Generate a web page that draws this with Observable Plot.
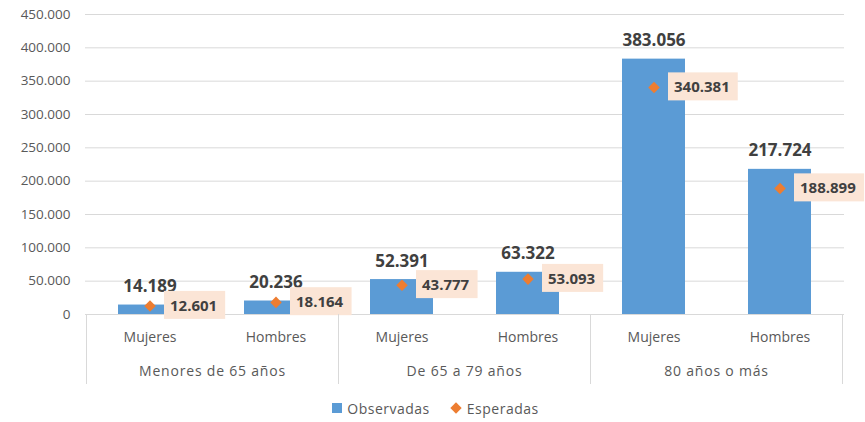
<!DOCTYPE html>
<html><head><meta charset="utf-8">
<script src="https://cdn.jsdelivr.net/npm/d3@7"></script>
<script src="https://cdn.jsdelivr.net/npm/@observablehq/plot@0.6"></script>
<style>
body{margin:0;background:#fff;font-family:"Open Sans",sans-serif;}
#chart{width:865px;}
.legend{height:26px;display:flex;justify-content:center;align-items:center;gap:22px;font-size:14px;color:#595959;letter-spacing:0.5px;padding-left:6px;}
.legend span.item{display:flex;align-items:center;gap:5px;}
.sq{width:10px;height:10px;background:#5B9BD5;display:inline-block;}
.dm{width:8px;height:8px;background:#ED7D31;display:inline-block;transform:rotate(45deg);margin-right:2px;}
</style></head><body>
<div id="chart"></div>
<script>
const groups = ["Menores de 65 años", "De 65 a 79 años", "80 años o más"];
const sexes = ["Mujeres", "Hombres"];
const observadas = [14189, 20236, 52391, 63322, 383056, 217724];
const esperadas = [12601, 18164, 43777, 53093, 340381, 188899];
const yTicks = [0, 50000, 100000, 150000, 200000, 250000, 300000, 350000, 400000, 450000];

const data = [];
groups.forEach((g, i) => sexes.forEach((s, j) => {
  const k = i * 2 + j;
  data.push({key: s + "|" + g, group: g, sex: s, obs: observadas[k], esp: esperadas[k]});
}));
const fmt = v => d3.format(",")(v).replace(/,/g, ".");

const plot = Plot.plot({
  width: 865, height: 395,
  marginLeft: 85, marginRight: 21, marginTop: 14, marginBottom: 81,
  style: {fontFamily: "Open Sans", fontSize: "14px", color: "#595959", background: "white", overflow: "visible"},
  x: {domain: data.map(d => d.key), paddingInner: 0.5, paddingOuter: 0.25, axis: null, label: null},
  y: {domain: [0, 450000], axis: null, label: null},
  marks: [
    Plot.gridY(yTicks, {stroke: "#D9D9D9", strokeOpacity: 1, strokeWidth: 1}),
    Plot.axisY(yTicks, {tickSize: 0, tickPadding: 15, tickFormat: fmt, fontSize: 13.5, fill: "#595959", letterSpacing: "1.2px", label: null}),
    Plot.barY(data, {x: "key", y: "obs", fill: "#5B9BD5"}),
    Plot.text(data, {x: "key", y: "obs", text: d => fmt(d.obs), dy: -13, lineAnchor: "bottom", fontWeight: "bold", fontSize: 17, fill: "#404040"}),
    Plot.dot(data, {x: "key", y: "esp", symbol: "diamond2", r: 5.2, fill: "#ED7D31"}),
    Plot.text(data, {x: "key", y: "esp", text: d => fmt(d.esp), dx: 20, textAnchor: "start", fontWeight: "bold", fontSize: 15, fill: "#404040"}),
    Plot.axisX({tickSize: 0, tickPadding: 18, tickFormat: d => d.split("|")[0], fontSize: 14, fill: "#595959", letterSpacing: "1.3px", label: null})
  ]
});
document.getElementById("chart").appendChild(plot);

// label boxes behind expected values
const espText = new Set(esperadas.map(fmt));
d3.select(plot).selectAll("text").filter(function() { return espText.has(this.textContent); }).each(function() {
  const b = this.getBBox();
  const r = document.createElementNS("http://www.w3.org/2000/svg", "rect");
  r.setAttribute("x", b.x - 6);
  r.setAttribute("y", b.y + b.height / 2 - 14);
  r.setAttribute("width", b.width + 14);
  r.setAttribute("height", 28);
  r.setAttribute("fill", "#FBE5D6");
  const t = this.getAttribute("transform");
  if (t) r.setAttribute("transform", t);
  this.parentNode.insertBefore(r, this);
});

// group labels and separators from the x scale
const xs = plot.scale("x");
const ys = plot.scale("y");
const y0 = ys.range[0];
const svg = d3.select(plot);
const g = svg.append("g");
groups.forEach((grp, i) => {
  const a = xs.apply(sexes[0] + "|" + grp);
  const b = xs.apply(sexes[1] + "|" + grp);
  const left = a - xs.step * 0.25;
  const right = b + xs.bandwidth + xs.step * 0.25;
  g.append("line").attr("x1", left).attr("x2", left).attr("y1", y0).attr("y2", y0 + 70).attr("stroke", "#D9D9D9");
  if (i === groups.length - 1) g.append("line").attr("x1", right).attr("x2", right).attr("y1", y0).attr("y2", y0 + 70).attr("stroke", "#D9D9D9");
  g.append("text").attr("x", (left + right) / 2).attr("y", y0 + 62).attr("text-anchor", "middle")
    .attr("font-size", 14).attr("fill", "#595959").attr("letter-spacing", "0.8px").text(grp);
});
</script>
<div class="legend">
  <span class="item"><span class="sq"></span>Observadas</span>
  <span class="item"><span class="dm"></span>Esperadas</span>
</div>
</body></html>
